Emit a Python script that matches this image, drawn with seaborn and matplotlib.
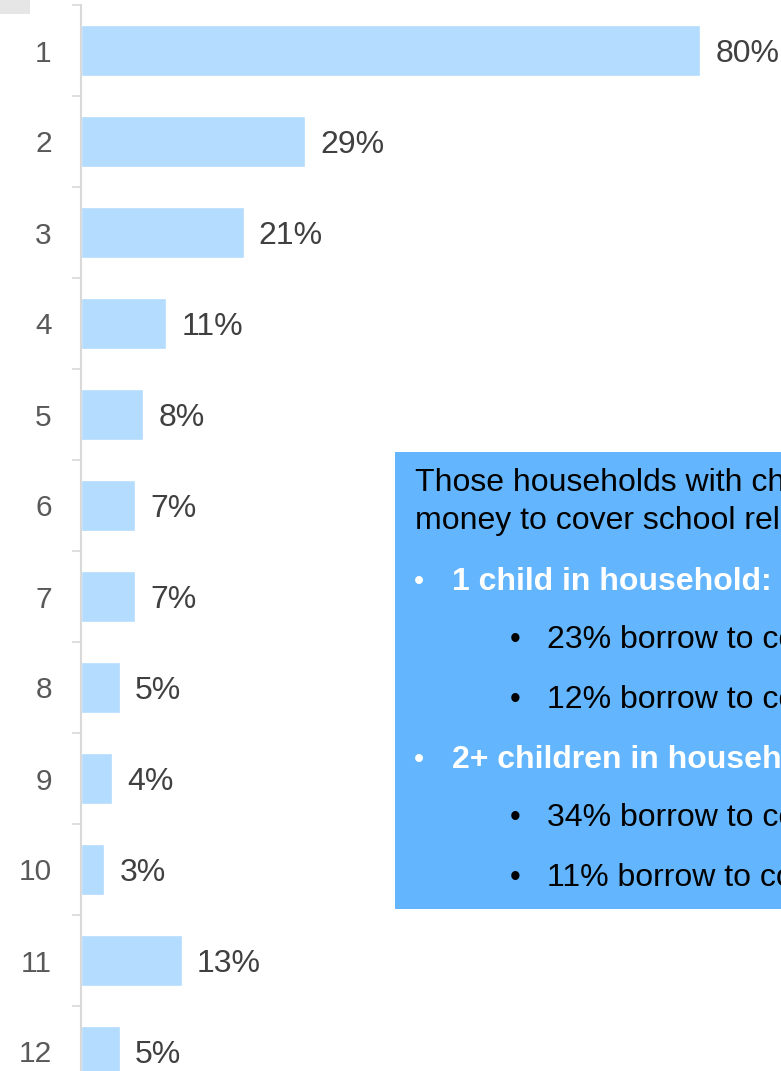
import numpy as np
import matplotlib
matplotlib.use("Agg")
import matplotlib.pyplot as plt
from matplotlib.patches import Rectangle
import seaborn as sns
import pandas as pd

categories = ['1', '2', '3', '4', '5', '6', '7', '8', '9', '10', '11', '12']
values = [80, 29, 21, 11, 8, 7, 7, 5, 4, 3, 13, 5]

box_intro = ["Those households with children are more likely to borrow",
             "money to cover school related expenses:"]
box_groups = ["1 child in household:", "2+ children in household:"]
box_items = [["23% borrow to cover school supplies", "12% borrow to cover school fees"],
             ["34% borrow to cover school supplies", "11% borrow to cover school fees"]]

sns.set_style("white")
plt.rcParams['font.family'] = ['Liberation Sans', 'DejaVu Sans']

df = pd.DataFrame({'cat': categories, 'val': values})

W, H = 781, 1071
fig = plt.figure(figsize=(W / 100, H / 100), dpi=100)
# axes runs off the bottom of the picture, like the cropped original
ax = fig.add_axes([81 / W, -26 / H, 700 / W, 1092 / H])

sns.barplot(data=df, x='val', y='cat', orient='h', color='#B3DCFF',
            saturation=1, width=0.55, ax=ax)

ax.set_xlim(0, 700 / 7.74)
ax.set_ylim(11.5, -0.5)
ax.set_xlabel('')
ax.set_ylabel('')
ax.set_xticks([])

for s in ['top', 'right', 'bottom']:
    ax.spines[s].set_visible(False)
ax.spines['left'].set_color('#D9D9D9')
ax.spines['left'].set_linewidth(1.5)

ax.set_yticks(np.arange(-0.5, 12, 1), minor=True)
ax.tick_params(axis='y', which='major', length=0, pad=21, labelsize=21.5, labelcolor='#595959')
ax.tick_params(axis='y', which='minor', length=6.5, width=1.2, color='#D9D9D9', left=True)

for t in ax.bar_label(ax.containers[0], fmt='%d%%', padding=11, fontsize=23, color='#404040'):
    t.set_va('center_baseline')

# little grey tab in the corner
fig.patches.append(Rectangle((0, 1 - 14 / H), 30 / W, 14 / H, transform=fig.transFigure,
                             facecolor='#E6E6E6', edgecolor='none'))

# callout box
fig.patches.append(Rectangle((395 / W, 1 - 909 / H), 500 / W, 457 / H, transform=fig.transFigure,
                             facecolor='#63B6FD', edgecolor='none', zorder=5))

def ftext(x, y, s, **kw):
    fig.text(x / W, 1 - y / H, s, va='baseline', ha='left', zorder=6, **kw)

ftext(415, 491, box_intro[0], fontsize=23, color='black')
ftext(415, 529, box_intro[1], fontsize=23, color='black')

group_y = [590, 768]
for g, gy in enumerate(group_y):
    ftext(414, gy, '•', fontsize=21, color='white')
    ftext(452, gy, box_groups[g], fontsize=23, color='white', fontweight='bold')
    for k, item in enumerate(box_items[g]):
        iy = gy + 58 + 60 * k
        ftext(510, iy, '•', fontsize=22, color='black')
        ftext(547, iy, item, fontsize=23, color='black')

fig.savefig('out.png', dpi=100)
